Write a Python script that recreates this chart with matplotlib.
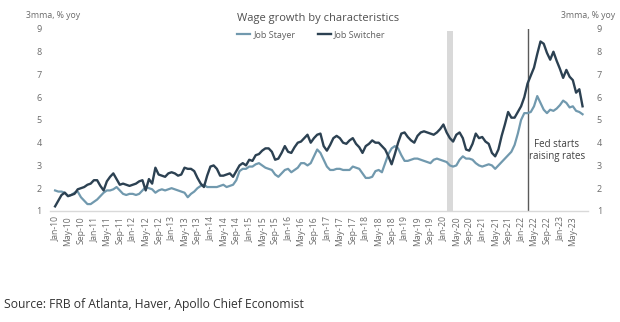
import numpy as np
import pandas as pd
import matplotlib
matplotlib.use("Agg")
import matplotlib.pyplot as plt

# Atlanta Fed wage growth tracker, 3-month moving average, % y/y
months = pd.date_range("2010-01-01", "2023-08-01", freq="MS")

job_switcher = [
    1.2, 1.45, 1.7, 1.8, 1.65, 1.7, 1.75, 1.95, 2.0, 2.05, 2.15, 2.2,      # 2010
    2.35, 2.35, 2.1, 1.9, 2.3, 2.5, 2.65, 2.4, 2.15, 2.2, 2.15, 2.1,       # 2011
    2.15, 2.2, 2.3, 2.35, 1.9, 2.4, 2.2, 2.9, 2.6, 2.55, 2.5, 2.65,        # 2012
    2.7, 2.65, 2.55, 2.6, 2.9, 2.85, 2.85, 2.75, 2.45, 2.2, 2.05, 2.55,    # 2013
    2.95, 3.0, 2.85, 2.55, 2.55, 2.6, 2.65, 2.5, 2.75, 3.0, 3.1, 3.0,      # 2014
    3.25, 3.2, 3.45, 3.5, 3.65, 3.75, 3.75, 3.6, 3.25, 3.3, 3.55, 3.85,    # 2015
    3.6, 3.55, 3.8, 4.0, 4.05, 4.2, 4.35, 4.0, 4.2, 4.35, 4.4, 3.85,       # 2016
    3.65, 3.9, 4.2, 4.3, 4.2, 4.0, 3.95, 4.1, 4.2, 3.95, 3.8, 3.55,        # 2017
    3.85, 3.95, 4.1, 4.0, 4.0, 3.85, 3.7, 3.4, 3.05, 3.5, 4.0, 4.4,        # 2018
    4.45, 4.25, 4.1, 4.0, 4.3, 4.45, 4.5, 4.45, 4.4, 4.35, 4.45, 4.6,      # 2019
    4.8, 4.45, 4.2, 4.05, 4.35, 4.45, 4.2, 3.7, 3.65, 3.95, 4.4, 4.2,      # 2020
    4.25, 4.05, 3.95, 3.55, 3.4, 3.7, 4.3, 4.8, 5.35, 5.1, 5.1, 5.35,      # 2021
    5.6, 6.0, 6.6, 6.95, 7.3, 7.9, 8.45, 8.35, 7.95, 7.65, 8.0, 7.6,       # 2022
    7.25, 6.85, 7.2, 6.9, 6.75, 6.2, 6.35, 5.6,                            # 2023
]

job_stayer = [
    1.9, 1.85, 1.85, 1.8, 1.65, 1.7, 1.8, 1.85, 1.6, 1.45, 1.3, 1.3,       # 2010
    1.4, 1.5, 1.65, 1.8, 1.9, 1.9, 1.95, 2.05, 1.9, 1.75, 1.7, 1.75,       # 2011
    1.75, 1.7, 1.75, 1.9, 2.05, 2.0, 1.95, 1.8, 1.9, 1.95, 1.9, 1.95,      # 2012
    2.0, 1.95, 1.9, 1.85, 1.8, 1.6, 1.75, 1.85, 2.0, 2.1, 2.15, 2.05,      # 2013
    2.05, 2.05, 2.05, 2.1, 2.15, 2.05, 2.1, 2.15, 2.35, 2.75, 2.85, 2.85,  # 2014
    2.95, 2.95, 3.05, 3.1, 3.0, 2.9, 2.85, 2.8, 2.6, 2.5, 2.65, 2.8,       # 2015
    2.85, 2.7, 2.8, 2.9, 3.1, 3.1, 3.0, 3.1, 3.4, 3.7, 3.55, 3.25,         # 2016
    2.95, 2.8, 2.8, 2.85, 2.85, 2.8, 2.8, 2.8, 2.95, 2.9, 2.85, 2.65,      # 2017
    2.45, 2.45, 2.5, 2.75, 2.8, 2.7, 3.1, 3.5, 3.75, 3.85, 3.75, 3.45,     # 2018
    3.2, 3.2, 3.25, 3.3, 3.3, 3.25, 3.2, 3.15, 3.1, 3.25, 3.3, 3.25,       # 2019
    3.2, 3.15, 3.0, 2.95, 3.0, 3.25, 3.4, 3.3, 3.3, 3.25, 3.1, 3.0,        # 2020
    2.95, 3.0, 3.05, 3.0, 2.85, 3.0, 3.15, 3.3, 3.45, 3.6, 3.9, 4.4,       # 2021
    5.0, 5.3, 5.3, 5.35, 5.6, 6.05, 5.75, 5.45, 5.3, 5.45, 5.4, 5.5,       # 2022
    5.65, 5.85, 5.75, 5.55, 5.6, 5.4, 5.35, 5.25,                          # 2023
]

recession = ("2020-02-01", "2020-04-01")
fed_hike = "2022-03-01"
yticks = [1, 2, 3, 4, 5, 6, 7, 8, 9]

stayer_color = "#7199ae"
switcher_color = "#2c4152"
text_color = "#6b6b6b"

plt.rcParams["font.family"] = ["Open Sans", "DejaVu Sans"]

x = np.arange(len(months))
idx = {d: i for i, d in enumerate(months)}

fig = plt.figure(figsize=(6.2, 3.22), dpi=100)
ax = fig.add_axes([0.081, 0.345, 0.868, 0.565])

r0 = idx[pd.Timestamp(recession[0])]
r1 = idx[pd.Timestamp(recession[1])]
ax.axvspan(r0, r1, ymin=0, ymax=0.99, color="#d9d9d9", lw=0, zorder=1)
ax.axvline(idx[pd.Timestamp(fed_hike)], color="#5a5a5a", lw=1.0, zorder=2)

ax.plot(x, job_stayer, color=stayer_color, lw=1.6, label="Job Stayer", zorder=3)
ax.plot(x, job_switcher, color=switcher_color, lw=1.7, label="Job Switcher", zorder=4)

ax.set_xlim(-1.5, len(months) + 0.8)
ax.set_ylim(1, 9)
ax.set_yticks(yticks)
ax.tick_params(axis="y", length=0, labelsize=6.5, labelcolor=text_color,
               pad=6, labelleft=True, labelright=True)
tick_pos = x[::4]
ax.set_xticks(tick_pos)
ax.set_xticklabels([months[i].strftime("%b-%y") for i in tick_pos],
                   rotation=90, fontsize=6.2, color=text_color)
ax.tick_params(axis="x", length=0, pad=4)

for s in ["top", "left", "right"]:
    ax.spines[s].set_visible(False)
ax.spines["bottom"].set_color("#d9d9d9")
ax.spines["bottom"].set_linewidth(1.0)

ax.text(idx[pd.Timestamp(fed_hike)] + 9, 3.65, "Fed starts\nraising rates",
        ha="center", va="center", fontsize=7, color="#404040", linespacing=1.2)

fig.text(0.513, 0.942, "Wage growth by characteristics", ha="center", va="center",
         fontsize=8, color="#505050")
fig.legend(loc="center", bbox_to_anchor=(0.502, 0.891), ncol=2, frameon=False,
           fontsize=6.5, handlelength=1.5, handletextpad=0.3, columnspacing=2.5,
           labelcolor="#606060", borderaxespad=0, borderpad=0)

fig.text(0.042, 0.952, "3mma, % yoy", ha="left", va="center", fontsize=6.3, color=text_color)
fig.text(0.992, 0.952, "3mma, % yoy", ha="right", va="center", fontsize=6.3, color=text_color)

fig.text(0.007, 0.055, "Source: FRB of Atlanta, Haver, Apollo Chief Economist",
         ha="left", va="center", fontsize=8.7, color="#333333")

fig.savefig("out.png", dpi=100)
